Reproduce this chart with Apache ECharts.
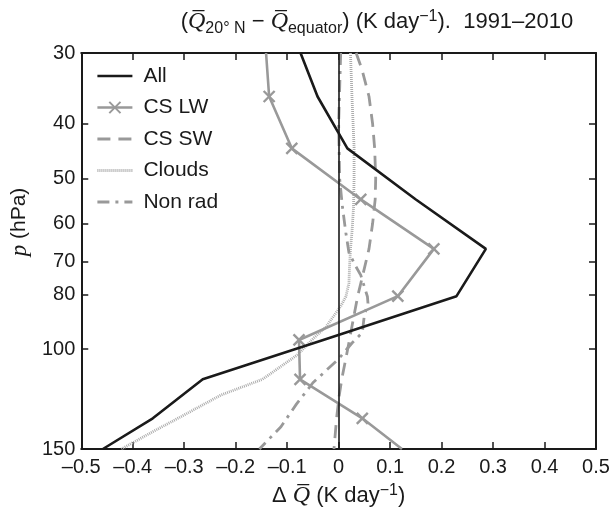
<!DOCTYPE html>
<html>
<head>
<meta charset="utf-8">
<script src="https://cdn.jsdelivr.net/npm/echarts@6/dist/echarts.min.js"></script>
<style>
  html, body { margin: 0; padding: 0; background: #fff; }
  #chart { width: 614px; height: 514px; }
</style>
</head>
<body>
<div id="chart"></div>
<script>
// Pressure levels (hPa) of the model profiles
const pLevels = [30, 35.8, 44.2, 54.4, 66.5, 80.6, 96.3, 113, 132.4, 150];
// Total heating-rate difference (K/day)
const allQ = [-0.074, -0.041, 0.017, 0.15, 0.286, 0.229, -0.03, -0.264, -0.361, -0.458];
// Clear-sky longwave
const csLwQ = [-0.141, -0.135, -0.091, 0.043, 0.185, 0.115, -0.077, -0.075, 0.046, 0.123];

// Clear-sky shortwave
const csSwP = [30, 32, 35.8, 40, 44.2, 50, 54.4, 60, 66.5, 72, 80.6, 88, 96.3, 105, 113, 121, 132.4, 150];
const csSwQ = [0.034, 0.045, 0.059, 0.066, 0.070, 0.072, 0.071, 0.066, 0.059, 0.050, 0.037, 0.029, 0.021, 0.013, 0.006, 0.001, -0.004, -0.009];

// Cloud radiative effect
const cloudP = [30, 36, 44, 50, 56, 62, 66.5, 72, 76.5, 80.8, 84, 88, 91.4, 95.5, 102.3, 113, 120.5, 131.5, 139.8, 150];
const cloudQ = [0.023, 0.026, 0.030, 0.030, 0.029, 0.026, 0.023, 0.021, 0.020, 0.014, 0.004, -0.012, -0.025, -0.048, -0.080, -0.148, -0.229, -0.306, -0.361, -0.422];

// Non-radiative heating
const nonRadP = [30, 40, 50, 55.7, 62.3, 67.5, 71.3, 74, 80.8, 83, 87, 93.5, 97.5, 104, 114.6, 125, 137, 150];
const nonRadQ = [0.004, 0.0, 0.002, 0.007, 0.014, 0.020, 0.033, 0.043, 0.056, 0.057, 0.050, 0.046, 0.026, 0.0, -0.05, -0.082, -0.112, -0.154];

// Axis ticks
const xTicks = [-0.5, -0.4, -0.3, -0.2, -0.1, 0, 0.1, 0.2, 0.3, 0.4, 0.5];
const pTicks = [30, 40, 50, 60, 70, 80, 100, 150];

const legendNames = ['All', 'CS LW', 'CS SW', 'Clouds', 'Non rad'];

const FONT = 'Liberation Sans';
const MATH = 'Liberation Serif';
const INK = '#1a1a1a';
const GRAY = '#999999';
const LIGHT = '#acacac';

// Line styles shared by the series and their legend samples
const styles = {
  'All':     { color: INK,   width: 2.6, type: 'solid' },
  'CS LW':   { color: GRAY,  width: 2.6, type: 'solid' },
  'CS SW':   { color: GRAY,  width: 2.8, type: [13, 8] },
  'Clouds':  { color: LIGHT, width: 2.8, type: [1, 1] },
  'Non rad': { color: GRAY,  width: 2.8, type: [12, 6, 3, 6] }
};

function pairs(ps, qs) { return ps.map((p, i) => [qs[i], p]); }

const crossMark = 'path://M0,0L10,10M10,0L0,10';
const csLwData = pLevels.map((p, i) => {
  const edge = (i === 0 || i === pLevels.length - 1);
  return edge ? { value: [csLwQ[i], p], symbol: 'none' } : { value: [csLwQ[i], p] };
});

function fmtX(v) {
  const r = Math.round(v * 10) / 10;
  if (r === 0) return '0';
  return (r < 0 ? '\u2013' : '') + Math.abs(r).toFixed(1);
}

const baseText = { fontFamily: FONT, fontSize: 20, color: INK };

function mathRich(size) {
  return {
    t: { fontFamily: FONT, fontWeight: 'normal', fontSize: size, color: INK, lineHeight: 26, verticalAlign: 'middle' },
    q: { fontFamily: MATH, fontWeight: 'normal', fontStyle: 'italic', fontSize: size + 2, color: INK, lineHeight: 26, verticalAlign: 'middle' },
    sub: { fontFamily: FONT, fontWeight: 'normal', fontSize: size - 6, color: INK, lineHeight: 14, verticalAlign: 'bottom', padding: [0, 0, -2, 0] },
    sup: { fontFamily: FONT, fontWeight: 'normal', fontSize: size - 6, color: INK, lineHeight: 14, verticalAlign: 'top' }
  };
}

const legendData = legendNames.map(name => {
  const item = { name: name, lineStyle: Object.assign({}, styles[name]) };
  if (name !== 'CS LW') item.itemStyle = { opacity: 0 };
  return item;
});

const chart = echarts.init(document.getElementById('chart'), null, { renderer: 'canvas' });
chart.setOption({
  animation: false,
  backgroundColor: '#ffffff',
  title: {
    left: 372,
    textAlign: 'center',
    top: 4,
    text: '{t|(}{q|Q\u0305}{sub|20\u00b0 N}{t| \u2212 }{q|Q\u0305}{sub|equator}{t|) (K day}{sup|\u22121}{t|).  1991\u20132010}',
    textStyle: { fontWeight: 'normal', rich: mathRich(22) }
  },
  grid: { left: 81, right: 18, top: 53, bottom: 65, containLabel: false },
  legend: {
    orient: 'vertical',
    left: 96,
    top: 65,
    padding: 0,
    itemWidth: 35,
    itemHeight: 14,
    itemGap: 9.5,
    data: legendData,
    textStyle: { fontFamily: FONT, fontSize: 21, color: INK, lineHeight: 22, padding: [0, 0, 0, 6] }
  },
  xAxis: [{
    type: 'value',
    position: 'bottom',
    min: -0.5, max: 0.5, interval: 0.1,
    axisLine: { show: true, onZero: false, lineStyle: { color: INK, width: 2 } },
    axisTick: { show: true, inside: true, length: 7, lineStyle: { color: INK, width: 1.5 } },
    axisLabel: { ...baseText, margin: 8, formatter: fmtX, customValues: xTicks },
    splitLine: { show: false },
    name: '{t|\u0394 }{q|Q\u0305}{t| (K day}{sup|\u22121}{t|)}',
    nameLocation: 'middle',
    nameGap: 34,
    nameTextStyle: { rich: mathRich(22) }
  }, {
    type: 'value',
    position: 'top',
    min: -0.5, max: 0.5, interval: 0.1,
    axisLine: { show: true, onZero: false, lineStyle: { color: INK, width: 2 } },
    axisTick: { show: true, inside: true, length: 7, lineStyle: { color: INK, width: 1.5 } },
    axisLabel: { show: false },
    splitLine: { show: false }
  }],
  yAxis: [{
    type: 'log',
    logBase: 10,
    position: 'left',
    inverse: true,
    min: 30, max: 150,
    axisLine: { show: true, onZero: false, lineStyle: { color: INK, width: 2 } },
    axisTick: { show: true, inside: true, length: 7, lineStyle: { color: INK, width: 1.5 }, customValues: pTicks },
    axisLabel: { ...baseText, margin: 6, customValues: pTicks },
    minorTick: { show: false },
    splitLine: { show: false },
    name: '{i|p}{t| (hPa)}',
    nameLocation: 'middle',
    nameRotate: 90,
    nameGap: 37,
    nameTextStyle: {
      padding: [0, 0, 0, 58],
      rich: {
        i: { fontFamily: MATH, fontStyle: 'italic', fontSize: 23, color: INK },
        t: { fontFamily: FONT, fontSize: 21, color: INK }
      }
    }
  }, {
    type: 'log',
    logBase: 10,
    position: 'right',
    inverse: true,
    min: 30, max: 150,
    axisLine: { show: true, onZero: false, lineStyle: { color: INK, width: 2 } },
    axisTick: { show: true, inside: true, length: 7, lineStyle: { color: INK, width: 1.5 }, customValues: pTicks },
    axisLabel: { show: false, customValues: pTicks },
    splitLine: { show: false }
  }],
  series: [
    {
      name: 'All', type: 'line', xAxisIndex: 0, yAxisIndex: 0,
      data: pairs(pLevels, allQ),
      symbol: 'none',
      lineStyle: styles['All'],
      itemStyle: { color: INK },
      z: 5,
      markLine: {
        silent: true,
        symbol: 'none',
        label: { show: false },
        lineStyle: { color: INK, width: 1.6, type: 'solid' },
        data: [{ xAxis: 0 }]
      }
    },
    {
      name: 'CS LW', type: 'line', xAxisIndex: 0, yAxisIndex: 0,
      data: csLwData,
      symbol: crossMark,
      symbolSize: 11,
      showAllSymbol: true,
      lineStyle: styles['CS LW'],
      itemStyle: { color: 'rgba(0,0,0,0)', borderColor: GRAY, borderWidth: 2.4 },
      z: 4
    },
    {
      name: 'CS SW', type: 'line', xAxisIndex: 0, yAxisIndex: 0,
      data: pairs(csSwP, csSwQ),
      symbol: 'none',
      lineStyle: styles['CS SW'],
      itemStyle: { color: GRAY },
      z: 3
    },
    {
      name: 'Clouds', type: 'line', xAxisIndex: 0, yAxisIndex: 0,
      data: pairs(cloudP, cloudQ),
      symbol: 'none',
      lineStyle: styles['Clouds'],
      itemStyle: { color: LIGHT },
      z: 2
    },
    {
      name: 'Non rad', type: 'line', xAxisIndex: 0, yAxisIndex: 0,
      data: pairs(nonRadP, nonRadQ),
      symbol: 'none',
      lineStyle: styles['Non rad'],
      itemStyle: { color: GRAY },
      z: 3
    }
  ]
});
</script>
</body>
</html>
